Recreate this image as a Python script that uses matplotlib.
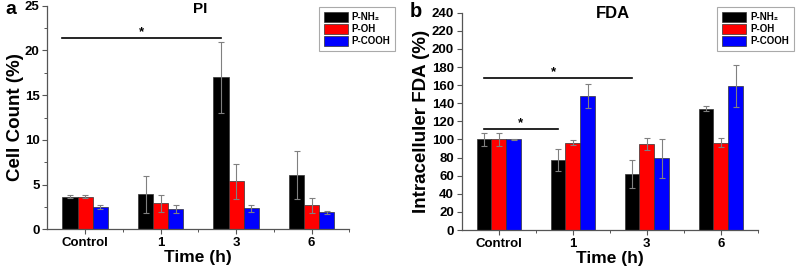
import numpy as np
import matplotlib
matplotlib.use('Agg')
import matplotlib.pyplot as plt
from matplotlib.patches import Patch
from matplotlib.ticker import MultipleLocator, FixedLocator

plt.rcParams['font.family'] = ['Liberation Sans', 'DejaVu Sans']
plt.rcParams['font.weight'] = 'bold'
plt.rcParams['axes.labelweight'] = 'bold'

groups = ['Control', '1', '3', '6']
series = ['P-NH\u2082', 'P-OH', 'P-COOH']
colors = ['#000000', '#ff0000', '#0000ff']

pi_mean = {
    'P-NH\u2082': [3.65, 3.9, 17.0, 6.1],
    'P-OH': [3.65, 2.9, 5.35, 2.7],
    'P-COOH': [2.5, 2.3, 2.35, 1.9],
}
pi_err = {
    'P-NH\u2082': [0.2, 2.1, 3.95, 2.7],
    'P-OH': [0.2, 0.95, 2.0, 0.85],
    'P-COOH': [0.25, 0.45, 0.4, 0.2],
}
fda_mean = {
    'P-NH\u2082': [100, 77, 62, 134],
    'P-OH': [100, 96.5, 95, 96.5],
    'P-COOH': [100, 148, 79, 159],
}
fda_err = {
    'P-NH\u2082': [7, 12, 15.5, 3],
    'P-OH': [7, 3, 6.5, 5],
    'P-COOH': [0.5, 13.5, 21, 23.5],
}

# significance bars: (x0, x1, y, star_x)
pi_sig = [(-0.3, 1.8, 21.4, 0.75)]
fda_sig = [(-0.2, 1.8, 167.5, 0.74), (-0.2, 0.8, 111.5, 0.3)]


def draw_panel(ax, mean, err, ylim, ystep, yminor, ylabel, sig):
    x = np.arange(len(groups))
    width = 0.2
    for i, s in enumerate(series):
        xs = x + (i - 1) * width
        ax.bar(xs, mean[s], width, color=colors[i], edgecolor='#333333', linewidth=0.5, zorder=2)
        ax.errorbar(xs, mean[s], yerr=err[s], fmt='none', ecolor='#808080',
                    elinewidth=0.8, capsize=2, capthick=0.8, zorder=3)
    ax.set_xlim(-0.5, 3.5)
    ax.set_ylim(*ylim)
    ax.set_xticks(x)
    ax.set_xticklabels(groups)
    ax.xaxis.set_minor_locator(FixedLocator([0.5, 1.5, 2.5, 3.5]))
    ax.yaxis.set_major_locator(MultipleLocator(ystep))
    if yminor:
        ax.yaxis.set_minor_locator(MultipleLocator(yminor))
    for sp in ['top', 'right']:
        ax.spines[sp].set_visible(False)
    for sp in ['left', 'bottom']:
        ax.spines[sp].set_color('#555555')
        ax.spines[sp].set_linewidth(0.9)
    ax.tick_params(which='major', length=3.5, width=0.8, color='#555555', labelsize=9.5, pad=2)
    ax.tick_params(which='minor', length=2, width=0.7, color='#555555')
    ax.set_xlabel('Time (h)', fontsize=12.5, labelpad=1)
    ax.set_ylabel(ylabel, fontsize=13.5, labelpad=1)
    for x0, x1, y, sx in sig:
        ax.plot([x0, x1], [y, y], color='black', lw=1.2, zorder=4)
        ax.text(sx, y, '*', ha='center', va='bottom', fontsize=9.5, fontweight='bold')
    handles = [Patch(facecolor=c, edgecolor='#333333', linewidth=0.5) for c in colors]
    return handles


fig = plt.figure(figsize=(7.97, 2.70), dpi=100)
ax1 = fig.add_axes([0.0594, 0.1507, 0.379, 0.828])
ax2 = fig.add_axes([0.5793, 0.148, 0.3714, 0.805])

h = draw_panel(ax1, pi_mean, pi_err, (0, 25), 5, 2.5, 'Cell Count (%)', pi_sig)
draw_panel(ax2, fda_mean, fda_err, (0, 240), 20, None, 'Intracelluler FDA (%)', fda_sig)

for right in [0.496, 0.996]:
    leg = fig.legend(h, series, loc='upper right', bbox_to_anchor=(right, 0.975),
                     handlelength=2.5, handleheight=1.3, labelspacing=0.15,
                     handletextpad=0.4, borderpad=0.5, borderaxespad=0,
                     fancybox=False, framealpha=1, edgecolor='#aaaaaa',
                     prop={'weight': 'bold', 'size': 7})
    leg.get_frame().set_linewidth(0.8)

fig.text(0.0063, 0.948, 'a', fontsize=14, fontweight='bold', va='baseline')
fig.text(0.514, 0.938, 'b', fontsize=14.5, fontweight='bold', va='baseline')
fig.text(200 / 797, 1 - 12.7 / 270, 'PI', fontsize=11, fontweight='bold', ha='center', va='baseline')
fig.text(612.5 / 797, 1 - 18.3 / 270, 'FDA', fontsize=12, fontweight='bold', ha='center', va='baseline')

plt.savefig('out.png', dpi=100)
plt.close()
